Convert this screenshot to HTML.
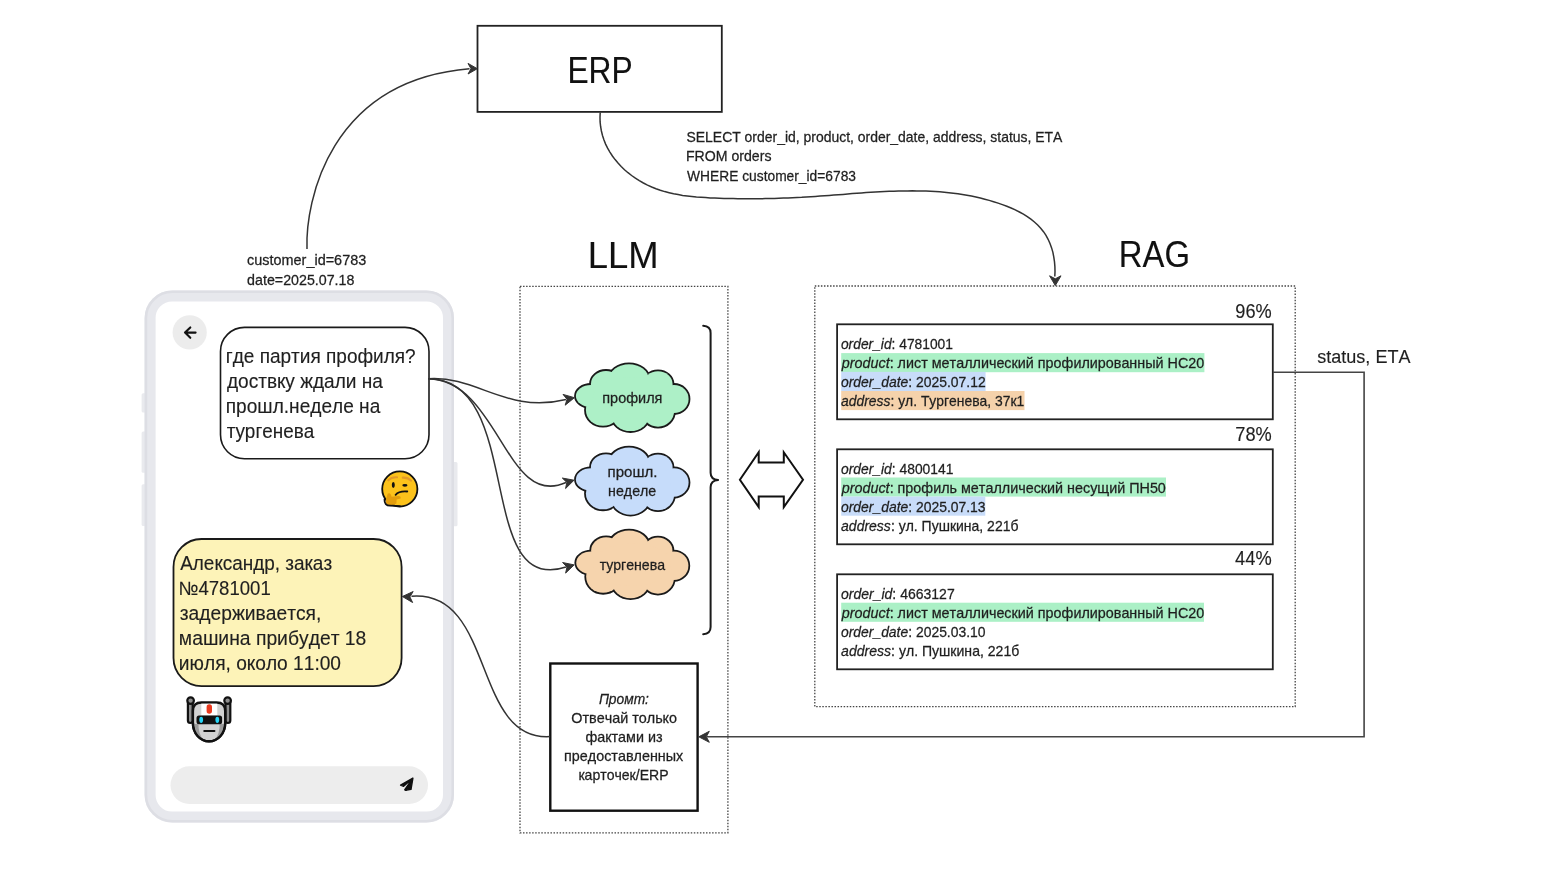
<!DOCTYPE html><html><head><meta charset="utf-8"><style>
html,body{margin:0;padding:0;background:#fff;width:1560px;height:877px;overflow:hidden}
svg{display:block;font-family:"Liberation Sans",sans-serif;font-kerning:none;will-change:transform}
text{font-kerning:none}
</style></head><body>
<svg width="1560" height="877" viewBox="0 0 1560 877">
<rect width="1560" height="877" fill="#fff"/>
<rect x="141.6" y="393.3" width="5" height="19.3" rx="1.5" fill="#e9eaee"/>
<rect x="141.6" y="431.6" width="5" height="41.1" rx="1.5" fill="#e9eaee"/>
<rect x="141.6" y="484.3" width="5" height="41.7" rx="1.5" fill="#e9eaee"/>
<rect x="452" y="461.9" width="5.5" height="64.3" rx="1.5" fill="#e9eaee"/>
<rect x="150.1" y="296" width="298.4" height="521" rx="22" fill="#fff" stroke="#e7e8ed" stroke-width="11"/>
<rect x="145.9" y="291.8" width="306.8" height="529.4" rx="26.5" fill="none" stroke="#dddee4" stroke-width="2.6"/>
<circle cx="189.7" cy="332.4" r="17.1" fill="#ececec"/>
<path d="M195.6,332.6 H185.2 M190.3,327.4 L185,332.6 L190.3,337.8" fill="none" stroke="#111" stroke-width="2.1" stroke-linecap="round" stroke-linejoin="round"/>
<rect x="170.5" y="766.3" width="257.5" height="37.7" rx="18.85" fill="#ededed"/>
<path d="M412.9,778.1 L400.6,785.1 L403.6,786.3 Z M412.9,778.1 L404.8,789.6 Q405.4,790.9 406.8,790.1 L411,789.3 Z" fill="#111" stroke="#111" stroke-width="1.4" stroke-linejoin="round"/>
<rect x="220.5" y="327.4" width="208.5" height="131.4" rx="24" fill="#fff" stroke="#1a1a1a" stroke-width="1.6"/>
<rect x="173.5" y="539" width="228.1" height="147.1" rx="28" fill="#fdf3b8" stroke="#1a1a1a" stroke-width="1.8"/>
<rect x="477.5" y="25.8" width="244.3" height="86.1" fill="#fff" stroke="#222" stroke-width="1.8"/>
<rect x="520" y="286.4" width="207.9" height="546.4" fill="none" stroke="#444" stroke-width="1.3" stroke-dasharray="1.5 1.55"/>
<rect x="814.8" y="286" width="480.4" height="420.7" fill="none" stroke="#444" stroke-width="1.3" stroke-dasharray="1.5 1.55"/>
<rect x="837.1" y="324.3" width="435.7" height="95" fill="#fff" stroke="#222" stroke-width="1.8"/>
<rect x="837.1" y="449.3" width="435.7" height="95" fill="#fff" stroke="#222" stroke-width="1.8"/>
<rect x="837.1" y="574.3" width="435.7" height="95" fill="#fff" stroke="#222" stroke-width="1.8"/>
<rect x="550.3" y="663.5" width="147.3" height="147.2" fill="#fff" stroke="#111" stroke-width="2.4"/>
<g>
<ellipse cx="591.00" cy="396.00" rx="16.00" ry="12.00" fill="#1a1a1a" stroke="#1a1a1a" stroke-width="1.8"/>
<ellipse cx="606.00" cy="384.00" rx="16.00" ry="14.00" fill="#1a1a1a" stroke="#1a1a1a" stroke-width="1.8"/>
<ellipse cx="629.00" cy="379.00" rx="20.50" ry="15.60" fill="#1a1a1a" stroke="#1a1a1a" stroke-width="1.8"/>
<ellipse cx="658.00" cy="384.00" rx="15.50" ry="13.70" fill="#1a1a1a" stroke="#1a1a1a" stroke-width="1.8"/>
<ellipse cx="674.00" cy="399.00" rx="15.50" ry="15.00" fill="#1a1a1a" stroke="#1a1a1a" stroke-width="1.8"/>
<ellipse cx="658.00" cy="411.00" rx="17.00" ry="16.60" fill="#1a1a1a" stroke="#1a1a1a" stroke-width="1.8"/>
<ellipse cx="630.50" cy="415.30" rx="19.50" ry="16.70" fill="#1a1a1a" stroke="#1a1a1a" stroke-width="1.8"/>
<ellipse cx="603.00" cy="410.00" rx="18.00" ry="16.70" fill="#1a1a1a" stroke="#1a1a1a" stroke-width="1.8"/>
<ellipse cx="632.00" cy="398.00" rx="40.00" ry="22.00" fill="#1a1a1a" stroke="#1a1a1a" stroke-width="1.8"/>
<ellipse cx="591.00" cy="396.00" rx="15.10" ry="11.10" fill="#adf0c7"/>
<ellipse cx="606.00" cy="384.00" rx="15.10" ry="13.10" fill="#adf0c7"/>
<ellipse cx="629.00" cy="379.00" rx="19.60" ry="14.70" fill="#adf0c7"/>
<ellipse cx="658.00" cy="384.00" rx="14.60" ry="12.80" fill="#adf0c7"/>
<ellipse cx="674.00" cy="399.00" rx="14.60" ry="14.10" fill="#adf0c7"/>
<ellipse cx="658.00" cy="411.00" rx="16.10" ry="15.70" fill="#adf0c7"/>
<ellipse cx="630.50" cy="415.30" rx="18.60" ry="15.80" fill="#adf0c7"/>
<ellipse cx="603.00" cy="410.00" rx="17.10" ry="15.80" fill="#adf0c7"/>
<ellipse cx="632.00" cy="398.00" rx="39.10" ry="21.10" fill="#adf0c7"/>
</g>
<g>
<ellipse cx="591.00" cy="479.44" rx="16.00" ry="12.05" fill="#1a1a1a" stroke="#1a1a1a" stroke-width="1.8"/>
<ellipse cx="606.00" cy="467.39" rx="16.00" ry="14.06" fill="#1a1a1a" stroke="#1a1a1a" stroke-width="1.8"/>
<ellipse cx="629.00" cy="462.37" rx="20.50" ry="15.67" fill="#1a1a1a" stroke="#1a1a1a" stroke-width="1.8"/>
<ellipse cx="658.00" cy="467.39" rx="15.50" ry="13.76" fill="#1a1a1a" stroke="#1a1a1a" stroke-width="1.8"/>
<ellipse cx="674.00" cy="482.46" rx="15.50" ry="15.07" fill="#1a1a1a" stroke="#1a1a1a" stroke-width="1.8"/>
<ellipse cx="658.00" cy="494.51" rx="17.00" ry="16.67" fill="#1a1a1a" stroke="#1a1a1a" stroke-width="1.8"/>
<ellipse cx="630.50" cy="498.83" rx="19.50" ry="16.77" fill="#1a1a1a" stroke="#1a1a1a" stroke-width="1.8"/>
<ellipse cx="603.00" cy="493.50" rx="18.00" ry="16.77" fill="#1a1a1a" stroke="#1a1a1a" stroke-width="1.8"/>
<ellipse cx="632.00" cy="481.45" rx="40.00" ry="22.10" fill="#1a1a1a" stroke="#1a1a1a" stroke-width="1.8"/>
<ellipse cx="591.00" cy="479.44" rx="15.10" ry="11.15" fill="#c6dcfa"/>
<ellipse cx="606.00" cy="467.39" rx="15.10" ry="13.16" fill="#c6dcfa"/>
<ellipse cx="629.00" cy="462.37" rx="19.60" ry="14.77" fill="#c6dcfa"/>
<ellipse cx="658.00" cy="467.39" rx="14.60" ry="12.86" fill="#c6dcfa"/>
<ellipse cx="674.00" cy="482.46" rx="14.60" ry="14.17" fill="#c6dcfa"/>
<ellipse cx="658.00" cy="494.51" rx="16.10" ry="15.77" fill="#c6dcfa"/>
<ellipse cx="630.50" cy="498.83" rx="18.60" ry="15.87" fill="#c6dcfa"/>
<ellipse cx="603.00" cy="493.50" rx="17.10" ry="15.87" fill="#c6dcfa"/>
<ellipse cx="632.00" cy="481.45" rx="39.10" ry="21.20" fill="#c6dcfa"/>
</g>
<g>
<ellipse cx="591.23" cy="562.68" rx="15.93" ry="12.14" fill="#1a1a1a" stroke="#1a1a1a" stroke-width="1.8"/>
<ellipse cx="606.16" cy="550.54" rx="15.93" ry="14.16" fill="#1a1a1a" stroke="#1a1a1a" stroke-width="1.8"/>
<ellipse cx="629.06" cy="545.48" rx="20.41" ry="15.78" fill="#1a1a1a" stroke="#1a1a1a" stroke-width="1.8"/>
<ellipse cx="657.94" cy="550.54" rx="15.43" ry="13.86" fill="#1a1a1a" stroke="#1a1a1a" stroke-width="1.8"/>
<ellipse cx="673.87" cy="565.71" rx="15.43" ry="15.18" fill="#1a1a1a" stroke="#1a1a1a" stroke-width="1.8"/>
<ellipse cx="657.94" cy="577.85" rx="16.93" ry="16.79" fill="#1a1a1a" stroke="#1a1a1a" stroke-width="1.8"/>
<ellipse cx="630.56" cy="582.20" rx="19.42" ry="16.90" fill="#1a1a1a" stroke="#1a1a1a" stroke-width="1.8"/>
<ellipse cx="603.18" cy="576.84" rx="17.92" ry="16.90" fill="#1a1a1a" stroke="#1a1a1a" stroke-width="1.8"/>
<ellipse cx="632.05" cy="564.70" rx="39.83" ry="22.26" fill="#1a1a1a" stroke="#1a1a1a" stroke-width="1.8"/>
<ellipse cx="591.23" cy="562.68" rx="15.03" ry="11.24" fill="#f6d4ad"/>
<ellipse cx="606.16" cy="550.54" rx="15.03" ry="13.26" fill="#f6d4ad"/>
<ellipse cx="629.06" cy="545.48" rx="19.51" ry="14.88" fill="#f6d4ad"/>
<ellipse cx="657.94" cy="550.54" rx="14.53" ry="12.96" fill="#f6d4ad"/>
<ellipse cx="673.87" cy="565.71" rx="14.53" ry="14.28" fill="#f6d4ad"/>
<ellipse cx="657.94" cy="577.85" rx="16.03" ry="15.89" fill="#f6d4ad"/>
<ellipse cx="630.56" cy="582.20" rx="18.52" ry="16.00" fill="#f6d4ad"/>
<ellipse cx="603.18" cy="576.84" rx="17.02" ry="16.00" fill="#f6d4ad"/>
<ellipse cx="632.05" cy="564.70" rx="38.93" ry="21.36" fill="#f6d4ad"/>
</g>
<path d="M703.2,325.8 Q710.6,326.2 710.6,333 V472.7 Q710.6,479.4 718.1,480 Q710.6,480.6 710.6,487.3 V627 Q710.6,633.8 703.2,634.2" fill="none" stroke="#1a1a1a" stroke-width="2" stroke-linecap="round" stroke-linejoin="round"/>
<path d="M739.9,479.7 L758.7,452.3 V462.6 H783.8 V452.3 L803,479.7 L783.8,507.1 V496.6 H758.7 V507.1 Z" fill="#fff" stroke="#111" stroke-width="2" stroke-linejoin="miter"/>
<path d="M307.0,249.0 C305.3,201.7 329.0,80.6 469.5,68.7" fill="none" stroke="#333" stroke-width="1.5"/>
<path d="M477.30,68.70 L468.00,74.00 L471.00,68.70 L468.00,63.40 Z" fill="#333" stroke="#333" stroke-width="1" stroke-linejoin="round"/>
<path d="M600.2,112.5 L600.0,117.2 L600.1,121.9 L600.6,126.5 L601.4,131.0 L602.5,135.5 L603.9,139.8 L605.6,144.1 L607.6,148.2 L609.9,152.1 L612.4,156.0 L615.1,159.6 L618.0,163.1 L621.2,166.5 L624.5,169.7 L628.0,172.7 L631.6,175.5 L635.4,178.2 L639.3,180.7 L643.4,183.0 L647.5,185.1 L651.7,187.0 L656.0,188.7 L660.3,190.2 L664.7,191.6 L669.1,192.7 L673.6,193.8 L678.1,194.6 L682.6,195.4 L687.2,196.0 L691.8,196.5 L696.4,197.0 L701.0,197.3 L705.6,197.6 L710.2,197.9 L714.8,198.1 L719.4,198.2 L724.0,198.4 L728.6,198.5 L733.2,198.6 L737.8,198.7 L742.3,198.7 L746.9,198.8 L751.5,198.8 L756.0,198.7 L760.6,198.7 L765.2,198.6 L769.7,198.5 L774.3,198.4 L778.8,198.3 L783.4,198.1 L788.0,198.0 L792.5,197.8 L797.1,197.5 L801.7,197.3 L806.2,197.0 L810.8,196.7 L815.4,196.4 L820.0,196.1 L824.6,195.8 L829.2,195.4 L833.8,195.1 L838.4,194.7 L843.0,194.4 L847.7,194.0 L852.3,193.6 L856.9,193.3 L861.5,193.0 L866.1,192.6 L870.8,192.3 L875.4,192.0 L880.0,191.8 L884.6,191.5 L889.2,191.3 L893.8,191.2 L898.5,191.0 L903.1,190.9 L907.7,190.9 L912.3,190.8 L916.9,190.9 L921.4,190.9 L926.0,191.1 L930.6,191.3 L935.2,191.5 L939.7,191.8 L944.3,192.2 L948.8,192.7 L953.3,193.2 L957.9,193.8 L962.4,194.5 L966.9,195.2 L971.4,196.1 L975.9,197.0 L980.3,198.0 L984.8,199.2 L989.2,200.4 L993.6,201.7 L998.1,203.1 L1002.4,204.6 L1006.8,206.3 L1011.1,208.0 L1015.3,209.9 L1019.4,212.0 L1023.4,214.2 L1027.3,216.6 L1030.9,219.2 L1034.4,222.0 L1037.7,225.0 L1040.7,228.2 L1043.5,231.7 L1046.0,235.4 L1048.1,239.3 L1050.0,243.5 L1051.6,247.9 L1052.9,252.4 L1053.8,257.1 L1054.5,261.9 L1054.9,266.7 L1055.0,271.6 L1054.8,276.5" fill="none" stroke="#333" stroke-width="1.5"/>
<path d="M1055.30,285.60 L1049.60,275.80 L1055.30,278.80 L1061.00,275.80 Z" fill="#333" stroke="#333" stroke-width="1" stroke-linejoin="round"/>
<path d="M428.4,378.8 C477.2,375.5 506.5,414.2 566.0,399.5" fill="none" stroke="#333" stroke-width="1.5"/>
<path d="M574.40,397.70 L565.20,405.18 L567.05,399.19 L563.02,394.40 Z" fill="#333" stroke="#333" stroke-width="1" stroke-linejoin="round"/>
<path d="M428.4,378.8 C499.4,380.6 505.6,509.5 566.0,482.5" fill="none" stroke="#333" stroke-width="1.5"/>
<path d="M574.00,480.20 L565.59,488.56 L566.83,482.42 L562.34,478.05 Z" fill="#333" stroke="#333" stroke-width="1" stroke-linejoin="round"/>
<path d="M428.4,378.8 C525.2,379.0 474.3,597.5 566.0,567.0" fill="none" stroke="#333" stroke-width="1.5"/>
<path d="M574.20,564.90 L565.63,573.09 L566.99,566.97 L562.59,562.52 Z" fill="#333" stroke="#333" stroke-width="1" stroke-linejoin="round"/>
<path d="M550.1,736.6 C471.9,741.5 495.6,589.6 411.5,596.3" fill="none" stroke="#333" stroke-width="1.5"/>
<path d="M402.40,596.50 L413.16,591.53 L409.89,596.87 L412.61,602.52 Z" fill="#333" stroke="#333" stroke-width="1" stroke-linejoin="round"/>
<path d="M1273,372.2 H1364.1 V736.7 H707" fill="none" stroke="#444" stroke-width="1.6"/>
<path d="M698.80,736.80 L709.30,731.30 L706.30,736.80 L709.30,742.30 Z" fill="#333" stroke="#333" stroke-width="1" stroke-linejoin="round"/>
<g>
<circle cx="399.8" cy="489" r="17.6" fill="#fcc21b" stroke="#111" stroke-width="1.8"/>
<path d="M388.3,480.3 Q391.5,476.8 397,477.3" fill="none" stroke="#e39a2a" stroke-width="2.1" stroke-linecap="round"/>
<path d="M402.8,477.6 Q408,477.3 411,480.6" fill="none" stroke="#e39a2a" stroke-width="2.1" stroke-linecap="round"/>
<ellipse cx="393.3" cy="485" rx="1.5" ry="2.9" fill="#111"/>
<ellipse cx="404.9" cy="485.3" rx="2.6" ry="1.4" fill="#111"/>
<path d="M395.6,494.8 Q399,490.8 407.3,491.5" fill="none" stroke="#111" stroke-width="1.8" stroke-linecap="round"/>
<path d="M387.3,495 Q387.5,492.8 389.5,493.3 Q391.2,494 391.6,496.8 L398.5,496 Q401.3,496.3 400.6,498.6 L396.6,499.6 L396.4,503.6 Q393.5,505.5 389,505.2 Q385.2,504.8 385.6,500.8 Z" fill="#e39d0c"/>
<path d="M384.5,499.5 Q384.3,505.5 390,505.6 Q395,506 400,506.2" fill="none" stroke="#111" stroke-width="1.8" stroke-linecap="round"/>
</g>
<g stroke-linejoin="round">
<rect x="187.9" y="700" width="4.8" height="23" rx="2.4" fill="#8e8e8e" stroke="#111" stroke-width="2.2"/>
<rect x="225.5" y="700" width="4.8" height="23" rx="2.4" fill="#8e8e8e" stroke="#111" stroke-width="2.2"/>
<circle cx="190.6" cy="700.6" r="3.3" fill="#8e8e8e" stroke="#111" stroke-width="2.2"/>
<circle cx="227.6" cy="700.6" r="3.3" fill="#8e8e8e" stroke="#111" stroke-width="2.2"/>
<path d="M192.9,711 Q192.9,702.5 201.5,702.5 H216.6 Q225.2,702.5 225.2,711 V723 A16.15,18.3 0 0 1 192.9,723 Z" fill="#d2d2d2" stroke="#111" stroke-width="2.4"/>
<path d="M201.3,703.7 H217.3 V715.4 H201.3 Z" fill="#fff"/>
<rect x="206.6" y="704.3" width="5.4" height="9.4" rx="2.7" fill="#ea3a1f"/>
<path d="M194.2,724 Q194.5,736 203.5,740.3 Q198,733 198.5,724 Z" fill="#9b9b9b"/>
<path d="M223.9,724 Q223.6,736 214.6,740.3 Q220.1,733 219.6,724 Z" fill="#9b9b9b"/>
<rect x="196.5" y="715.4" width="25.6" height="8.9" rx="2.5" fill="#111"/>
<ellipse cx="201.2" cy="719.8" rx="1.9" ry="3.1" fill="#27d4f6"/>
<ellipse cx="217.3" cy="719.8" rx="1.9" ry="3.1" fill="#27d4f6"/>
<path d="M204.2,731 H214.5" stroke="#111" stroke-width="1.9" stroke-linecap="round"/>
<path d="M192.9,723 A16.15,18.3 0 0 0 225.2,723" fill="none" stroke="#111" stroke-width="2.4"/>
</g>
<rect x="841.2" y="353.1" width="363.2" height="19.1" fill="#abf0c6"/>
<rect x="841.2" y="371.9" width="144.4" height="19.1" fill="#c8dcf9"/>
<rect x="841.2" y="391.0" width="183.3" height="19.1" fill="#f5d2ab"/>
<rect x="841.2" y="477.5" width="324.8" height="19.1" fill="#abf0c6"/>
<rect x="841.2" y="496.6" width="144.1" height="19.1" fill="#c8dcf9"/>
<rect x="841.2" y="602.7" width="362.8" height="19.1" fill="#abf0c6"/>
<text x="567.40" y="83.30" font-size="37.8" textLength="65.28" lengthAdjust="spacingAndGlyphs" fill="#111" stroke="#111" stroke-width="0.1">ERP</text>
<text x="587.82" y="267.50" font-size="37.8" textLength="70.77" lengthAdjust="spacingAndGlyphs" fill="#111" stroke="#111" stroke-width="0.1">LLM</text>
<text x="1118.81" y="266.50" font-size="37.8" textLength="71.15" lengthAdjust="spacingAndGlyphs" fill="#111" stroke="#111" stroke-width="0.1">RAG</text>
<text x="686.47" y="141.50" font-size="14.6" textLength="375.96" lengthAdjust="spacingAndGlyphs" fill="#1f1f1f" stroke="#1f1f1f" stroke-width="0.26">SELECT order_id, product, order_date, address, status, ETA</text>
<text x="685.94" y="161.00" font-size="14.6" textLength="85.57" lengthAdjust="spacingAndGlyphs" fill="#1f1f1f" stroke="#1f1f1f" stroke-width="0.26">FROM orders</text>
<text x="687.04" y="180.50" font-size="14.6" textLength="168.97" lengthAdjust="spacingAndGlyphs" fill="#1f1f1f" stroke="#1f1f1f" stroke-width="0.26">WHERE customer_id=6783</text>
<text x="247.09" y="265.10" font-size="14.6" textLength="119.15" lengthAdjust="spacingAndGlyphs" fill="#1f1f1f" stroke="#1f1f1f" stroke-width="0.26">customer_id=6783</text>
<text x="247.10" y="284.60" font-size="14.6" textLength="107.32" lengthAdjust="spacingAndGlyphs" fill="#1f1f1f" stroke="#1f1f1f" stroke-width="0.26">date=2025.07.18</text>
<text x="225.78" y="363.10" font-size="19.3" textLength="189.92" lengthAdjust="spacingAndGlyphs" fill="#1f1f1f" stroke="#1f1f1f" stroke-width="0.14">где партия профиля?</text>
<text x="226.91" y="387.90" font-size="19.3" textLength="155.99" lengthAdjust="spacingAndGlyphs" fill="#1f1f1f" stroke="#1f1f1f" stroke-width="0.14">доствку ждали на</text>
<text x="225.78" y="412.90" font-size="19.3" textLength="154.52" lengthAdjust="spacingAndGlyphs" fill="#1f1f1f" stroke="#1f1f1f" stroke-width="0.14">прошл.неделе на</text>
<text x="226.78" y="437.70" font-size="19.3" textLength="87.52" lengthAdjust="spacingAndGlyphs" fill="#1f1f1f" stroke="#1f1f1f" stroke-width="0.14">тургенева</text>
<text x="180.16" y="569.60" font-size="19.3" textLength="151.95" lengthAdjust="spacingAndGlyphs" fill="#1f1f1f" stroke="#1f1f1f" stroke-width="0.14">Александр, заказ</text>
<text x="178.49" y="594.80" font-size="19.3" textLength="92.31" lengthAdjust="spacingAndGlyphs" fill="#1f1f1f" stroke="#1f1f1f" stroke-width="0.14">№4781001</text>
<text x="179.74" y="619.70" font-size="19.3" textLength="141.59" lengthAdjust="spacingAndGlyphs" fill="#1f1f1f" stroke="#1f1f1f" stroke-width="0.14">задерживается,</text>
<text x="178.86" y="644.90" font-size="19.3" textLength="187.48" lengthAdjust="spacingAndGlyphs" fill="#1f1f1f" stroke="#1f1f1f" stroke-width="0.14">машина прибудет 18</text>
<text x="178.87" y="670.10" font-size="19.3" textLength="162.18" lengthAdjust="spacingAndGlyphs" fill="#1f1f1f" stroke="#1f1f1f" stroke-width="0.14">июля, около 11:00</text>
<text x="602.30" y="402.70" font-size="13.9" textLength="60.10" lengthAdjust="spacingAndGlyphs" fill="#1f1f1f" stroke="#1f1f1f" stroke-width="0.26">профиля</text>
<text x="607.56" y="476.60" font-size="13.9" textLength="49.92" lengthAdjust="spacingAndGlyphs" fill="#1f1f1f" stroke="#1f1f1f" stroke-width="0.26">прошл.</text>
<text x="608.12" y="495.70" font-size="13.9" textLength="48.12" lengthAdjust="spacingAndGlyphs" fill="#1f1f1f" stroke="#1f1f1f" stroke-width="0.26">неделе</text>
<text x="599.66" y="569.90" font-size="13.9" textLength="65.44" lengthAdjust="spacingAndGlyphs" fill="#1f1f1f" stroke="#1f1f1f" stroke-width="0.26">тургенева</text>
<text x="598.88" y="704.20" font-size="14.4" textLength="50.08" lengthAdjust="spacingAndGlyphs" fill="#1f1f1f" stroke="#1f1f1f" stroke-width="0.26" font-style="italic">Промт:</text>
<text x="571.32" y="723.10" font-size="14.5" textLength="105.58" lengthAdjust="spacingAndGlyphs" fill="#1f1f1f" stroke="#1f1f1f" stroke-width="0.26">Отвечай только</text>
<text x="585.40" y="741.90" font-size="14.5" textLength="77.14" lengthAdjust="spacingAndGlyphs" fill="#1f1f1f" stroke="#1f1f1f" stroke-width="0.26">фактами из</text>
<text x="564.10" y="760.70" font-size="14.5" textLength="119.15" lengthAdjust="spacingAndGlyphs" fill="#1f1f1f" stroke="#1f1f1f" stroke-width="0.26">предоставленных</text>
<text x="578.45" y="780.10" font-size="14.5" textLength="90.09" lengthAdjust="spacingAndGlyphs" fill="#1f1f1f" stroke="#1f1f1f" stroke-width="0.26">карточек/ERP</text>
<text x="1235.35" y="317.60" font-size="19.6" textLength="36.40" lengthAdjust="spacingAndGlyphs" fill="#1f1f1f" stroke="#1f1f1f" stroke-width="0.14">96%</text>
<text x="1235.27" y="440.80" font-size="19.6" textLength="36.48" lengthAdjust="spacingAndGlyphs" fill="#1f1f1f" stroke="#1f1f1f" stroke-width="0.14">78%</text>
<text x="1235.08" y="565.30" font-size="19.6" textLength="36.57" lengthAdjust="spacingAndGlyphs" fill="#1f1f1f" stroke="#1f1f1f" stroke-width="0.14">44%</text>
<text x="1317.30" y="362.50" font-size="18.9" textLength="93.14" lengthAdjust="spacingAndGlyphs" fill="#1f1f1f" stroke="#1f1f1f" stroke-width="0.14">status, ETA</text>
<text x="840.95" y="348.60" font-size="14.6" textLength="50.63" lengthAdjust="spacingAndGlyphs" fill="#1f1f1f" stroke="#1f1f1f" stroke-width="0.26" font-style="italic">order_id</text>
<text x="891.58" y="348.60" font-size="14.6" textLength="61.39" lengthAdjust="spacingAndGlyphs" fill="#1f1f1f" stroke="#1f1f1f" stroke-width="0.26">: 4781001</text>
<text x="841.76" y="367.65" font-size="14.6" textLength="47.88" lengthAdjust="spacingAndGlyphs" fill="#1f1f1f" stroke="#1f1f1f" stroke-width="0.26" font-style="italic">product</text>
<text x="889.63" y="367.65" font-size="14.6" textLength="314.63" lengthAdjust="spacingAndGlyphs" fill="#1f1f1f" stroke="#1f1f1f" stroke-width="0.26">: лист металлический профилированный НС20</text>
<text x="840.94" y="386.70" font-size="14.6" textLength="67.34" lengthAdjust="spacingAndGlyphs" fill="#1f1f1f" stroke="#1f1f1f" stroke-width="0.26" font-style="italic">order_date</text>
<text x="908.29" y="386.70" font-size="14.6" textLength="77.42" lengthAdjust="spacingAndGlyphs" fill="#1f1f1f" stroke="#1f1f1f" stroke-width="0.26">: 2025.07.12</text>
<text x="841.09" y="405.75" font-size="14.6" textLength="49.35" lengthAdjust="spacingAndGlyphs" fill="#1f1f1f" stroke="#1f1f1f" stroke-width="0.26" font-style="italic">address</text>
<text x="890.44" y="405.75" font-size="14.6" textLength="133.74" lengthAdjust="spacingAndGlyphs" fill="#1f1f1f" stroke="#1f1f1f" stroke-width="0.26">: ул. Тургенева, 37к1</text>
<text x="840.95" y="473.60" font-size="14.6" textLength="50.86" lengthAdjust="spacingAndGlyphs" fill="#1f1f1f" stroke="#1f1f1f" stroke-width="0.26" font-style="italic">order_id</text>
<text x="891.81" y="473.60" font-size="14.6" textLength="61.67" lengthAdjust="spacingAndGlyphs" fill="#1f1f1f" stroke="#1f1f1f" stroke-width="0.26">: 4800141</text>
<text x="841.76" y="492.65" font-size="14.6" textLength="47.87" lengthAdjust="spacingAndGlyphs" fill="#1f1f1f" stroke="#1f1f1f" stroke-width="0.26" font-style="italic">product</text>
<text x="889.63" y="492.65" font-size="14.6" textLength="276.23" lengthAdjust="spacingAndGlyphs" fill="#1f1f1f" stroke="#1f1f1f" stroke-width="0.26">: профиль металлический несущий ПН50</text>
<text x="840.94" y="511.70" font-size="14.6" textLength="67.30" lengthAdjust="spacingAndGlyphs" fill="#1f1f1f" stroke="#1f1f1f" stroke-width="0.26" font-style="italic">order_date</text>
<text x="908.24" y="511.70" font-size="14.6" textLength="77.37" lengthAdjust="spacingAndGlyphs" fill="#1f1f1f" stroke="#1f1f1f" stroke-width="0.26">: 2025.07.13</text>
<text x="841.09" y="530.75" font-size="14.6" textLength="49.79" lengthAdjust="spacingAndGlyphs" fill="#1f1f1f" stroke="#1f1f1f" stroke-width="0.26" font-style="italic">address</text>
<text x="890.88" y="530.75" font-size="14.6" textLength="127.61" lengthAdjust="spacingAndGlyphs" fill="#1f1f1f" stroke="#1f1f1f" stroke-width="0.26">: ул. Пушкина, 221б</text>
<text x="840.94" y="598.60" font-size="14.6" textLength="51.42" lengthAdjust="spacingAndGlyphs" fill="#1f1f1f" stroke="#1f1f1f" stroke-width="0.26" font-style="italic">order_id</text>
<text x="892.36" y="598.60" font-size="14.6" textLength="62.35" lengthAdjust="spacingAndGlyphs" fill="#1f1f1f" stroke="#1f1f1f" stroke-width="0.26">: 4663127</text>
<text x="841.76" y="617.65" font-size="14.6" textLength="47.88" lengthAdjust="spacingAndGlyphs" fill="#1f1f1f" stroke="#1f1f1f" stroke-width="0.26" font-style="italic">product</text>
<text x="889.63" y="617.65" font-size="14.6" textLength="314.63" lengthAdjust="spacingAndGlyphs" fill="#1f1f1f" stroke="#1f1f1f" stroke-width="0.26">: лист металлический профилированный НС20</text>
<text x="840.95" y="636.70" font-size="14.6" textLength="67.27" lengthAdjust="spacingAndGlyphs" fill="#1f1f1f" stroke="#1f1f1f" stroke-width="0.26" font-style="italic">order_date</text>
<text x="908.21" y="636.70" font-size="14.6" textLength="77.33" lengthAdjust="spacingAndGlyphs" fill="#1f1f1f" stroke="#1f1f1f" stroke-width="0.26">: 2025.03.10</text>
<text x="841.08" y="655.75" font-size="14.6" textLength="50.02" lengthAdjust="spacingAndGlyphs" fill="#1f1f1f" stroke="#1f1f1f" stroke-width="0.26" font-style="italic">address</text>
<text x="891.10" y="655.75" font-size="14.6" textLength="128.19" lengthAdjust="spacingAndGlyphs" fill="#1f1f1f" stroke="#1f1f1f" stroke-width="0.26">: ул. Пушкина, 221б</text>
</svg></body></html>
